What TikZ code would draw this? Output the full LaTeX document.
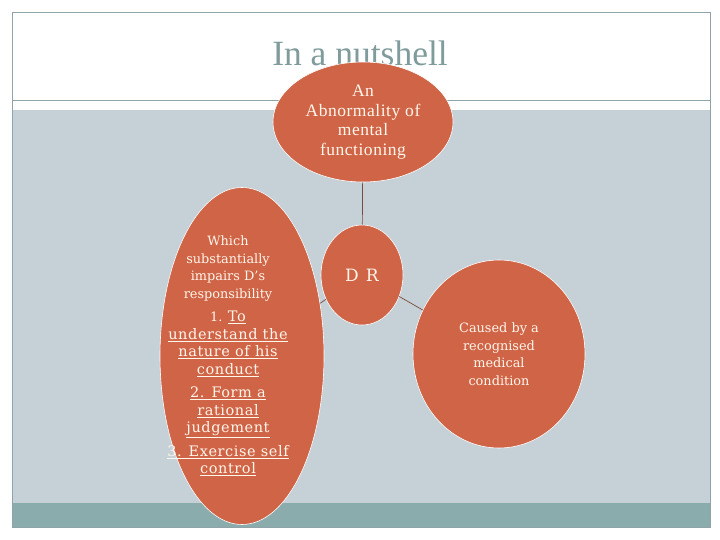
\documentclass[tikz,border=0pt]{standalone}
\usepackage{fontspec}
\setmainfont{Liberation Serif}
\newfontfamily\titlefont{Liberation Serif}
\newfontfamily\topfont{Liberation Serif}[LetterSpace=3]
\newfontfamily\slab{DejaVu Serif}[LetterSpace=4]
\newfontfamily\slablight{DejaVu Serif}[Scale=0.92]
\newfontfamily\drfont{DejaVu Serif}[LetterSpace=10]
\usetikzlibrary{shapes.geometric}
\definecolor{bubble}{HTML}{D06446}
\definecolor{panel}{HTML}{C5D1D7}
\definecolor{band}{HTML}{8AACAC}
\definecolor{framec}{HTML}{8FA3A8}
\definecolor{titlec}{HTML}{7F9B9B}
\definecolor{txt}{HTML}{FFF6EC}
\definecolor{linkc}{HTML}{7A4A3E}
\tikzset{
  bub/.style={ellipse, fill=bubble, draw=white, line width=0.6pt, inner sep=0pt, text=txt, align=center},
  btext/.style={text=txt, align=center, inner sep=0pt},
  link/.style={draw=linkc, line width=0.7pt}
}
\newcommand{\ul}[1]{{\slab\fontsize{14.5}{17.5}\selectfont\underline{#1}}}
\begin{document}
\begin{tikzpicture}[x=1pt,y=-1pt]
\useasboundingbox (0,0) rectangle (720,540);
\fill[white] (0,0) rectangle (720,540);
\fill[panel] (12,110) rectangle (710,503);
\fill[band] (12,503) rectangle (710,527);
\draw[framec, line width=0.8pt] (12,12) rectangle (710,527);
\draw[framec, line width=0.8pt] (12,100) -- (710,100);
\node[text=titlec, font=\titlefont\fontsize{35.5}{35.5}\selectfont, anchor=base] (title) at (360,66) {In a nutshell};
\node[bub, minimum width=180pt, minimum height=120pt, font=\topfont\fontsize{17.5}{19.7}\selectfont] (abn) at (363,122) {An\\Abnormality of\\mental\\functioning};
\node[bub, minimum width=82pt, minimum height=100pt, font=\drfont\fontsize{17}{17}\selectfont] (dr) at (362,275) {D R};
\node[bub, minimum width=164pt, minimum height=337pt] (lefte) at (242,356) {};
\node[btext, font=\slablight\fontsize{14}{17.5}\selectfont] (leftt) at (228,356) {Which\\substantially\\impairs D’s\\responsibility\\[6pt]
1. \ul{To}\\
\ul{understand the}\\
\ul{nature of his}\\
\ul{conduct}\\[6pt]
\ul{2. Form a}\\
\ul{rational}\\
\ul{judgement}\\[6pt]
\ul{3. Exercise self}\\
\ul{control}};
\node[bub, minimum width=172pt, minimum height=188pt, font=\slablight\fontsize{14}{17.5}\selectfont] (cause) at (499,354) {Caused by a\\recognised\\medical\\condition};
\draw[link] (abn) -- (dr);
\draw[link] (dr) -- (cause);
\draw[link] (dr) -- (lefte);
\end{tikzpicture}
\end{document}
